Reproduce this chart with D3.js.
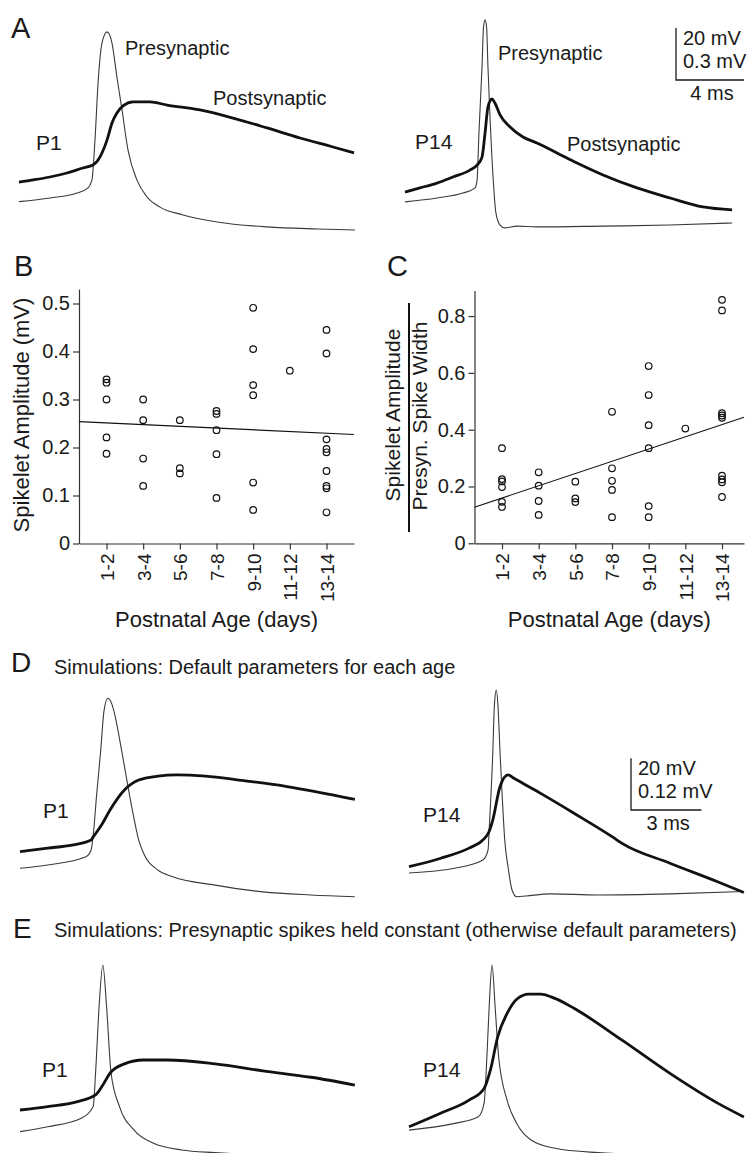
<!DOCTYPE html>
<html>
<head>
<meta charset="utf-8">
<script src="https://cdn.jsdelivr.net/npm/d3@7"></script>
<style>
  body { margin: 0; background: #fff; }
  svg text { font-family: "Liberation Sans", Arial, Helvetica, sans-serif; fill: #1a1a1a; }
</style>
</head>
<body>
<svg id="fig"></svg>
<script>
// age groups on the x axis of B and C
const ageGroups = ["1-2", "3-4", "5-6", "7-8", "9-10", "11-12", "13-14"];

// B: spikelet amplitude (mV), one list per age group
const spikeletAmp = [
  [0.342, 0.335, 0.30, 0.221, 0.187],
  [0.30, 0.257, 0.177, 0.12],
  [0.257, 0.157, 0.146],
  [0.276, 0.27, 0.236, 0.186, 0.095],
  [0.491, 0.405, 0.33, 0.309, 0.127, 0.07],
  [0.36],
  [0.445, 0.396, 0.217, 0.197, 0.19, 0.151, 0.12, 0.115, 0.065]
];
// C: spikelet amplitude / presynaptic spike width
const ampPerWidth = [
  [0.335, 0.226, 0.218, 0.198, 0.146, 0.128],
  [0.25, 0.203, 0.149, 0.10],
  [0.217, 0.158, 0.145],
  [0.463, 0.264, 0.22, 0.188, 0.092],
  [0.624, 0.522, 0.416, 0.335, 0.131, 0.092],
  [0.404],
  [0.857, 0.82, 0.458, 0.45, 0.442, 0.238, 0.225, 0.215, 0.163]
];
// regression lines, [group index, value] at both ends
const fitB = [[-0.75, 0.254], [6.75, 0.227]];
const fitC = [[-0.75, 0.127], [6.6, 0.444]];

const ticksB = [0, 0.1, 0.2, 0.3, 0.4, 0.5];
const ticksC = [0, 0.2, 0.4, 0.6, 0.8];

// recorded traces, [time ms, presyn mV] and [time ms, postsyn mV]
const preA_P1 = [[0,-59.1],[1.82,-57.7],[3.41,-55.8],[4.06,-53.8],[4.29,-50.8],[4.47,-35.4],[4.65,-13.5],[4.88,1.9],[5.18,6.2],[5.47,1.9],[5.76,-11.2],[6.06,-23.8],[6.41,-39.2],[6.94,-50.8],[7.53,-57.3],[8.29,-61.2],[9.65,-64.2],[11.65,-66.9],[14.59,-68.8],[17.53,-69.6],[19.76,-70]];
const postA_P1 = [[0,0.046],[0.82,0.058],[1.82,0.075],[2.82,0.098],[3.76,0.127],[4.35,0.144],[4.76,0.19],[5.18,0.289],[5.47,0.387],[5.76,0.444],[6.12,0.485],[6.71,0.508],[7.71,0.508],[8.71,0.49],[10.65,0.462],[12.59,0.415],[14.59,0.358],[16.53,0.3],[18.47,0.248],[19.71,0.214]];
const preA_P14 = [[0,-59.2],[1.88,-57.7],[3.41,-55.8],[4.12,-53.8],[4.24,-50.8],[4.35,-32.7],[4.53,-7.3],[4.62,8.1],[4.71,10.8],[4.8,8.1],[4.88,-7.3],[5.0,-26.5],[5.18,-49.6],[5.35,-63.5],[5.59,-68.1],[5.88,-69.2],[6.59,-68.5],[7.76,-68.8],[11.65,-68.5],[15.59,-68.1],[19.24,-67.3]];
const postA_P14 = [[0,-0.012],[0.88,0.012],[1.88,0.04],[2.82,0.075],[3.82,0.115],[4.24,0.144],[4.53,0.19],[4.71,0.329],[4.88,0.479],[5.12,0.525],[5.29,0.502],[5.59,0.433],[6.18,0.364],[6.94,0.306],[7.76,0.271],[8.94,0.214],[10.12,0.156],[11.65,0.087],[13.65,0.012],[15.59,-0.046],[17.53,-0.098],[19.24,-0.115]];

// simulated traces
const preD_P1 = [[0,-58.9],[1.18,-57.6],[2.81,-54.4],[3.03,-51.8],[3.12,-46],[3.27,-30],[3.43,-14.3],[3.58,2.0],[3.74,6.9],[3.9,5.0],[4.04,0.5],[4.35,-14.3],[4.76,-35.1],[5.06,-48.0],[5.26,-53.0],[5.88,-59.6],[6.48,-62.1],[8.31,-65.4],[10.35,-68.0],[12.4,-69.2],[14.27,-69.9]];
const postD_P1 = [[0,0.001],[1.18,0.009],[2.21,0.016],[3.03,0.028],[3.12,0.035],[3.5,0.065],[3.83,0.097],[4.45,0.144],[5.06,0.167],[5.88,0.176],[6.69,0.179],[7.91,0.176],[9.33,0.167],[11.38,0.152],[14.27,0.122]];
const preD_P14 = [[0,-60.7],[1.94,-58.9],[3.15,-55.7],[3.37,-51.8],[3.41,-45.2],[3.57,-14.3],[3.64,4.3],[3.72,10.1],[3.79,4.3],[3.88,-14.3],[3.98,-32.5],[4.08,-48.0],[4.22,-58.3],[4.39,-67.3],[4.59,-69.9],[4.99,-69.6],[6.01,-68.8],[8.05,-69.2],[11.12,-68.8],[14.27,-67.9]];
const postD_P14 = [[0,-0.034],[1.32,-0.015],[2.56,0.009],[3.15,0.028],[3.41,0.047],[3.57,0.074],[3.88,0.152],[4.22,0.179],[4.47,0.171],[5.61,0.136],[7.03,0.09],[8.67,0.035],[9.08,0.02],[11.12,-0.026],[13.15,-0.069],[14.27,-0.094]];
const preE_P1 = [[0,-60.2],[1.18,-58.3],[2.61,-55.0],[3.12,-50.5],[3.22,-37.5],[3.37,-11.9],[3.53,4.3],[3.69,-11.9],[3.88,-37.5],[4.24,-50.5],[4.86,-59.6],[5.67,-64.6],[6.89,-67.3],[8.31,-68.3],[10.35,-69.2],[14.27,-70]];
const postE_P1 = [[0,0],[1.18,0.008],[2.41,0.019],[3.22,0.035],[3.53,0.058],[3.83,0.085],[4.45,0.107],[5.26,0.116],[6.28,0.116],[8.31,0.107],[10.35,0.091],[12.4,0.076],[14.27,0.058]];
const preE_P14 = [[0,-59.6],[1.94,-57.0],[2.96,-54.4],[3.2,-49.2],[3.32,-31.2],[3.43,-9.3],[3.54,4.3],[3.67,-11.9],[3.82,-31.2],[4.18,-48.0],[4.59,-57.0],[5.2,-63.4],[6.22,-66.6],[8.05,-68.3],[11.55,-69.4],[14.27,-70]];
const postE_P14 = [[0,-0.039],[1.32,-0.008],[2.56,0.023],[3.2,0.05],[3.47,0.093],[3.78,0.17],[4.18,0.224],[4.59,0.257],[5.1,0.269],[5.61,0.269],[6.22,0.259],[7.03,0.236],[9.08,0.162],[11.12,0.085],[13.15,0.016],[14.27,-0.016]];

const W = 750, H = 1153;
const svg = d3.select("#fig").attr("width", W).attr("height", H);
const ink = "#1a1a1a";

function label(x, y, str, size, anchor) {
  return svg.append("text").attr("x", x).attr("y", y)
    .attr("font-size", size).attr("text-anchor", anchor || "start").text(str);
}

function trace(data, x, y, width, color) {
  svg.append("path").datum(data)
    .attr("d", d3.line().x(d => x(d[0])).y(d => y(d[1])).curve(d3.curveMonotoneX))
    .attr("fill", "none").attr("stroke", color).attr("stroke-width", width)
    .attr("stroke-linejoin", "round");
}

function scaleBar(x0, y0, xs, ms, yPre, yPost, preMV, postMV, msLab) {
  const len = xs(ms) - xs(0);
  const hgt = yPre(-70) - yPre(-70 + preMV);
  svg.append("path")
    .attr("d", `M${x0},${y0 - hgt}V${y0}H${x0 + len}`)
    .attr("fill", "none").attr("stroke", ink).attr("stroke-width", 1.3);
  label(x0 + 7, y0 - hgt + 17, preMV + " mV", 20);
  label(x0 + 7, y0 - 12, postMV + " mV", 20);
  label(x0 + len / 2 + 2, y0 + 20, msLab, 20, "middle");
}

// ---------- A ----------
label(11, 38, "A", 29);
const xA1 = d3.scaleLinear().domain([0, 20]).range([19, 359]);
const xA2 = d3.scaleLinear().domain([0, 20]).range([405, 745]);
const yPreA = d3.scaleLinear().domain([-70, -50]).range([230, 178]);
const yPostA = d3.scaleLinear().domain([0, 0.3]).range([190, 138]);
trace(preA_P1, xA1, yPreA, 1.1, "#3a3a3a");
trace(postA_P1, xA1, yPostA, 2.8, "#111");
trace(preA_P14, xA2, yPreA, 1.1, "#3a3a3a");
trace(postA_P14, xA2, yPostA, 2.8, "#111");
label(125, 55, "Presynaptic", 20);
label(213, 105, "Postsynaptic", 20);
label(36, 150, "P1", 21);
label(498, 60, "Presynaptic", 20);
label(567, 151, "Postsynaptic", 20);
label(415, 149, "P14", 21);
scaleBar(676, 80, xA1, 4, yPreA, yPostA, 20, 0.3, "4 ms");

// ---------- scatter panels ----------
function scatter(opts) {
  const x = d3.scaleLinear().domain(opts.xDom).range(opts.xRange);
  const y = d3.scaleLinear().domain(opts.yDom).range(opts.yRange);
  const g = svg.append("g");
  const yAx = g.append("g").attr("transform", `translate(${opts.xRange[0]},0)`)
    .call(d3.axisLeft(y).tickValues(opts.ticks).tickSize(6).tickSizeOuter(0)
      .tickFormat(d => d === 0 ? "0" : d3.format(".1f")(d)));
  yAx.selectAll("text").attr("font-size", 20).attr("fill", ink).attr("font-family", null);
  const xAx = g.append("g").attr("transform", `translate(0,${opts.yRange[0]})`)
    .call(d3.axisBottom(x).tickValues(d3.range(ageGroups.length)).tickSize(6).tickSizeOuter(0)
      .tickFormat(i => ageGroups[i]));
  xAx.selectAll("text").attr("font-size", 19).attr("fill", ink).attr("font-family", null)
    .attr("transform", "rotate(-90)").attr("text-anchor", "end")
    .attr("x", -10).attr("y", 0).attr("dy", "0.36em");
  g.selectAll(".domain, .tick line").attr("stroke", "#333").attr("stroke-width", 1.2);

  const pts = opts.data.flatMap((vals, i) => vals.map(v => [i, v]));
  g.selectAll("circle.pt").data(pts).join("circle").attr("class", "pt")
    .attr("cx", d => x(d[0])).attr("cy", d => y(d[1])).attr("r", 3.3)
    .attr("fill", "none").attr("stroke", "#111").attr("stroke-width", 1.2);
  g.append("path").datum(opts.fit)
    .attr("d", d3.line().x(d => x(d[0])).y(d => y(d[1])))
    .attr("stroke", "#111").attr("stroke-width", 1.1);
  label((opts.xRange[0] + opts.xRange[1]) / 2, 627, "Postnatal Age (days)", 22, "middle");
}

label(14, 276, "B", 29);
scatter({
  data: spikeletAmp, fit: fitB, ticks: ticksB,
  xDom: [-0.75, 6.75], xRange: [79, 354],
  yDom: [0, 0.53], yRange: [543.5, 289.1]
});
svg.append("text").attr("transform", "translate(29,415) rotate(-90)")
  .attr("font-size", 22).attr("text-anchor", "middle").text("Spikelet Amplitude (mV)");

label(387, 276, "C", 29);
scatter({
  data: ampPerWidth, fit: fitC, ticks: ticksC,
  xDom: [-0.75, 6.6], xRange: [474.5, 744],
  yDom: [0, 0.89], yRange: [543.3, 290.5]
});
svg.append("text").attr("transform", "translate(400,415) rotate(-90)")
  .attr("font-size", 21).attr("text-anchor", "middle").text("Spikelet Amplitude");
svg.append("text").attr("transform", "translate(427,416) rotate(-90)")
  .attr("font-size", 21).attr("text-anchor", "middle").text("Presyn. Spike Width");
svg.append("line").attr("x1", 409).attr("x2", 409).attr("y1", 303).attr("y2", 532)
  .attr("stroke", "#111").attr("stroke-width", 2);

// ---------- D and E ----------
const xS1 = d3.scaleLinear().domain([0, 3]).range([20, 90.4]);
const xS2 = d3.scaleLinear().domain([0, 3]).range([409, 479.4]);
const yPreD = d3.scaleLinear().domain([-70, -50]).range([897, 845.3]);
const yPostD = d3.scaleLinear().domain([0, 0.12]).range([852, 800.3]);
const yPreE = d3.scaleLinear().domain([-70, -50]).range([1157, 1105.3]);
const yPostE = d3.scaleLinear().domain([0, 0.12]).range([1110, 1058.3]);

label(11, 672, "D", 28);
label(54, 674, "Simulations: Default parameters for each age", 20);
trace(preD_P1, xS1, yPreD, 1.1, "#3a3a3a");
trace(postD_P1, xS1, yPostD, 2.8, "#111");
trace(preD_P14, xS2, yPreD, 1.1, "#3a3a3a");
trace(postD_P14, xS2, yPostD, 2.8, "#111");
label(43, 818, "P1", 21);
label(423, 822, "P14", 21);
scaleBar(631, 810, xS1, 3, yPreD, yPostD, 20, 0.12, "3 ms");

label(13, 938, "E", 28);
label(54, 937, "Simulations: Presynaptic spikes held constant (otherwise default parameters)", 20);
trace(preE_P1, xS1, yPreE, 1.1, "#3a3a3a");
trace(postE_P1, xS1, yPostE, 2.8, "#111");
trace(preE_P14, xS2, yPreE, 1.1, "#3a3a3a");
trace(postE_P14, xS2, yPostE, 2.8, "#111");
label(42, 1077, "P1", 21);
label(423, 1077, "P14", 21);
</script>
</body>
</html>
